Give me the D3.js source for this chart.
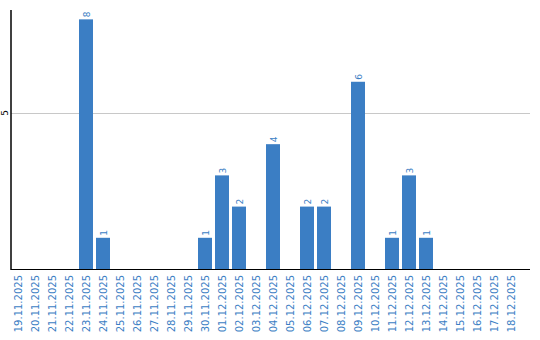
<!DOCTYPE html>
<html lang="en">
<head>
<meta charset="utf-8">
<title>Chart</title>
<script src="https://cdn.jsdelivr.net/npm/d3@7/dist/d3.min.js"></script>
<style>
  body { margin: 0; background: #fff; }
  text { font-family: "DejaVu Sans", sans-serif; }
</style>
</head>
<body>
<div id="chart"></div>
<script>
var dates = ["19.11.2025","20.11.2025","21.11.2025","22.11.2025","23.11.2025","24.11.2025",
  "25.11.2025","26.11.2025","27.11.2025","28.11.2025","29.11.2025","30.11.2025",
  "01.12.2025","02.12.2025","03.12.2025","04.12.2025","05.12.2025","06.12.2025",
  "07.12.2025","08.12.2025","09.12.2025","10.12.2025","11.12.2025","12.12.2025",
  "13.12.2025","14.12.2025","15.12.2025","16.12.2025","17.12.2025","18.12.2025"];
var counts = [0,0,0,0,8,1, 0,0,0,0,0,1, 3,2,0,4,0,2, 2,0,6,0,1,3, 1,0,0,0,0,0];
var yTicks = [5];

var blue = "#3b7ec4";
var width = 540, height = 340;

var svg = d3.select("#chart").append("svg")
    .attr("width", width)
    .attr("height", height);

var x = d3.scaleBand()
    .domain(dates)
    .range([11, 518])
    .paddingInner(3 / 17)
    .paddingOuter(0);

var y = d3.scaleLinear()
    .domain([0, 8.3])
    .range([269, 10]);

// gridlines
svg.selectAll(".grid")
    .data(yTicks)
    .enter()
    .append("line")
    .attr("x1", 11)
    .attr("x2", 530)
    .attr("y1", function(d) { return Math.round(y(d)) + 0.5; })
    .attr("y2", function(d) { return Math.round(y(d)) + 0.5; })
    .style("stroke", "#c8c8c8")
    .style("stroke-width", 1);

// y tick labels
svg.selectAll(".ytick")
    .data(yTicks)
    .enter()
    .append("text")
    .attr("transform", function(d) { return "translate(8," + y(d) + ") rotate(-90)"; })
    .attr("text-anchor", "middle")
    .style("font-size", "9px")
    .style("fill", "#000")
    .text(function(d) { return d; });

var data = dates.map(function(d, i) { return { date: d, value: counts[i] }; });
var nonZero = data.filter(function(d) { return d.value > 0; });

svg.selectAll(".bar")
    .data(nonZero)
    .enter()
    .append("rect")
    .attr("x", function(d) { return x(d.date); })
    .attr("width", x.bandwidth())
    .attr("y", function(d) { return y(d.value); })
    .attr("height", function(d) { return y(0) - y(d.value); })
    .style("fill", blue);

// value labels
svg.selectAll(".val")
    .data(nonZero)
    .enter()
    .append("text")
    .attr("transform", function(d) {
        return "translate(" + (x(d.date) + x.bandwidth() / 2 + 3.5) + "," + (y(d.value) - 2) + ") rotate(-90)";
    })
    .attr("text-anchor", "start")
    .style("font-size", "9px")
    .style("fill", blue)
    .text(function(d) { return d.value; });

// axes lines
svg.append("line")
    .attr("x1", 11).attr("x2", 11)
    .attr("y1", 10).attr("y2", 270)
    .style("stroke", "#000")
    .style("stroke-width", 1.5);

svg.append("line")
    .attr("x1", 11).attr("x2", 530)
    .attr("y1", 269.5).attr("y2", 269.5)
    .style("stroke", "#000")
    .style("stroke-width", 1);

// x labels
svg.selectAll(".xlab")
    .data(dates)
    .enter()
    .append("text")
    .attr("transform", function(d) {
        return "translate(" + (x(d) + x.bandwidth() / 2 + 3.5) + ",275) rotate(-90)";
    })
    .attr("text-anchor", "end")
    .style("font-size", "10px")
    .style("fill", blue)
    .text(function(d) { return d; });
</script>
</body>
</html>
